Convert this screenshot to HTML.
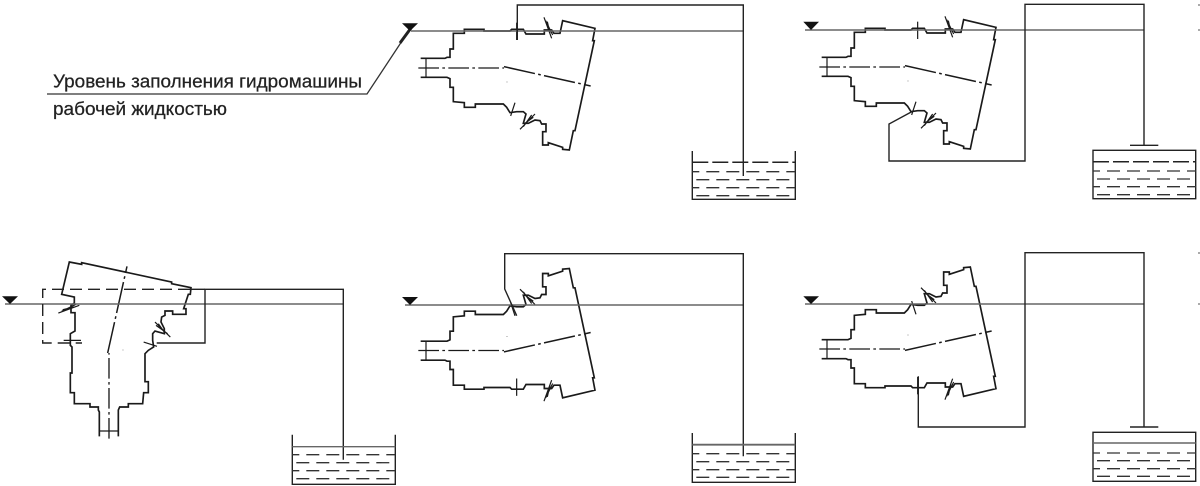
<!DOCTYPE html>
<html><head><meta charset="utf-8"><style>
html,body{margin:0;padding:0;background:#fff}
svg{display:block}
text{font-family:"Liberation Sans",sans-serif;fill:#222;font-size:18.5px;stroke:#222;stroke-width:.25px}
</style></head><body>
<svg width="1200" height="486" viewBox="0 0 1200 486" xmlns="http://www.w3.org/2000/svg">
<defs>
<g id="m" fill="none" stroke="#1a1a1a" stroke-width="5">
<path d="M62 175H135L141 172H150V147H160V100H193V88H252V93H330L335 88H370L378 102H433V90H455L462 100H480L488 62L585 85L578 122H583L525 392H520L508 450L488 448V442L445 428V435H428V395H438V372H425L420 362L405 360L385 370H370L378 342L370 335H350L330 338L320 322L310 312H226V322H193V308L160 305V262H150V236L141 232H62"/>
<path d="M78 175V232" stroke-width="3.6"/>
<path d="M55 204H312" stroke-width="4" stroke-dasharray="62 10 8 10"/>
<path d="M312 200L572 258" stroke-width="4.5" stroke-dasharray="95 10 8 10"/>
<path d="M350 68V120" stroke-width="3.6"/>
<path d="M432 52L455 115M437 62L458 105M442 65L450 100" stroke-width="3.6"/>
<path d="M345 308L332 348M405 342L360 388M395 345L370 380M400 352L372 372" stroke-width="3.6"/>
<path d="M319 246H323" stroke="#888" stroke-width="2"/>
</g>
<g id="d1" stroke="#333" stroke-width="1.3" fill="none"><path d="M0 0H103" stroke-dasharray="13 7" stroke-dashoffset="6"/></g>
<g id="d2" stroke="#333" stroke-width="1.3" fill="none"><path d="M0 0H103" stroke-dasharray="13 7" stroke-dashoffset="16"/></g>
</defs>

<!-- caption -->
<text x="53" y="87.5" textLength="309" lengthAdjust="spacingAndGlyphs">Уровень заполнения гидромашины</text>
<text x="53" y="115" textLength="174" lengthAdjust="spacingAndGlyphs">рабочей жидкостью</text>
<path d="M47 94H367L402 41" fill="none" stroke="#333" stroke-width="1.3"/>
<path d="M400 43L411 28" fill="none" stroke="#222" stroke-width="3"/>

<!-- machines -->
<use href="#m" transform="matrix(.3333 0 0 .3333 400 0)"/>
<use href="#m" transform="matrix(.3333 0 0 .3333 801 -1)"/>
<use href="#m" transform="matrix(.3333 0 0 -.3333 400 418.5)"/>
<use href="#m" transform="matrix(.3333 0 0 -.3333 801 417)"/>
<use href="#m" transform="matrix(0 -.3333 .3333 0 41 457)"/>

<!-- level lines -->
<g stroke="#666" stroke-width="1.5" fill="none">
<path d="M411 31H743.3"/>
<path d="M805 30H1144"/>
<path d="M5 304H343.3"/>
<path d="M405 305H743.3"/>
<path d="M805 304H1144"/>
</g>
<g fill="#111">
<path d="M402 23.3H418L410 31Z"/>
<path d="M803.3 21.7H819L811 30Z"/>
<path d="M2 296.3H18L10 304Z"/>
<path d="M402 297H418L410 305Z"/>
<path d="M803.3 296.3H819L811 304Z"/>
</g>

<!-- pipes -->
<g fill="none" stroke="#222" stroke-width="1.4">
<path d="M517.3 40V5H743.3V176"/>
<path d="M911.7 111.7L889 124V161H1025V4.3H1144V145M1130 145.3H1158.3"/>
<path d="M156.7 343H205V289.3H343.3V459.7"/>
<path d="M205 289.3H190"/>
<path d="M190 289.3H42.7V343H82" stroke-dasharray="12 6"/>
<path d="M516.7 315.7L504.7 289V253.7H743.3V456.3"/>
<path d="M918.3 376.3V427H1025V252.7H1144V427M1130 427H1158.3"/>

<!-- tanks -->
<path d="M692.3 151V199.3H795.3V151"/>
<rect x="1093" y="150.3" width="102.7" height="48.4"/>
<path d="M292.3 434.7V484.3H395.3V434.7"/>
<path d="M692.3 433V482.3H795.3V433"/>
<rect x="1093" y="432.3" width="102.7" height="49"/>
</g>

<!-- water surfaces -->
<g stroke="#222" stroke-width="1.5" fill="none">
<path d="M692.3 162.3H795.3" stroke-dasharray="16 4"/>
<path d="M1093 161.7H1195.7" stroke-dasharray="16 4"/>
</g>
<path d="M292.3 446.7H395.3" stroke="#666" stroke-width="1.3"/>
<path d="M692.3 444.7H795.3" stroke="#666" stroke-width="1.8"/>
<path d="M1093 443H1195.7" stroke="#666" stroke-width="1.5"/>

<!-- water dashes -->
<use href="#d1" x="692.3" y="171.7"/><use href="#d2" x="692.3" y="179.7"/><use href="#d1" x="692.3" y="187.7"/><use href="#d2" x="692.3" y="195.7"/>
<use href="#d1" x="1093" y="171"/><use href="#d2" x="1093" y="179"/><use href="#d1" x="1093" y="186.7"/><use href="#d2" x="1093" y="194.7"/>
<use href="#d1" x="292.3" y="454.7"/><use href="#d2" x="292.3" y="462.7"/><use href="#d1" x="292.3" y="470.7"/><use href="#d2" x="292.3" y="478.7"/>
<use href="#d1" x="692.3" y="453.7"/><use href="#d2" x="692.3" y="461.7"/><use href="#d1" x="692.3" y="469.7"/><use href="#d2" x="692.3" y="477.3"/>
<use href="#d1" x="1093" y="453"/><use href="#d2" x="1093" y="460.7"/><use href="#d1" x="1093" y="468.7"/><use href="#d2" x="1093" y="476.3"/>

<!-- edge marks -->
<path d="M1198 5H1200M1198 30H1200M1198 253H1200M1198 304H1200" stroke="#555" stroke-width="1"/>
</svg>
</body></html>
